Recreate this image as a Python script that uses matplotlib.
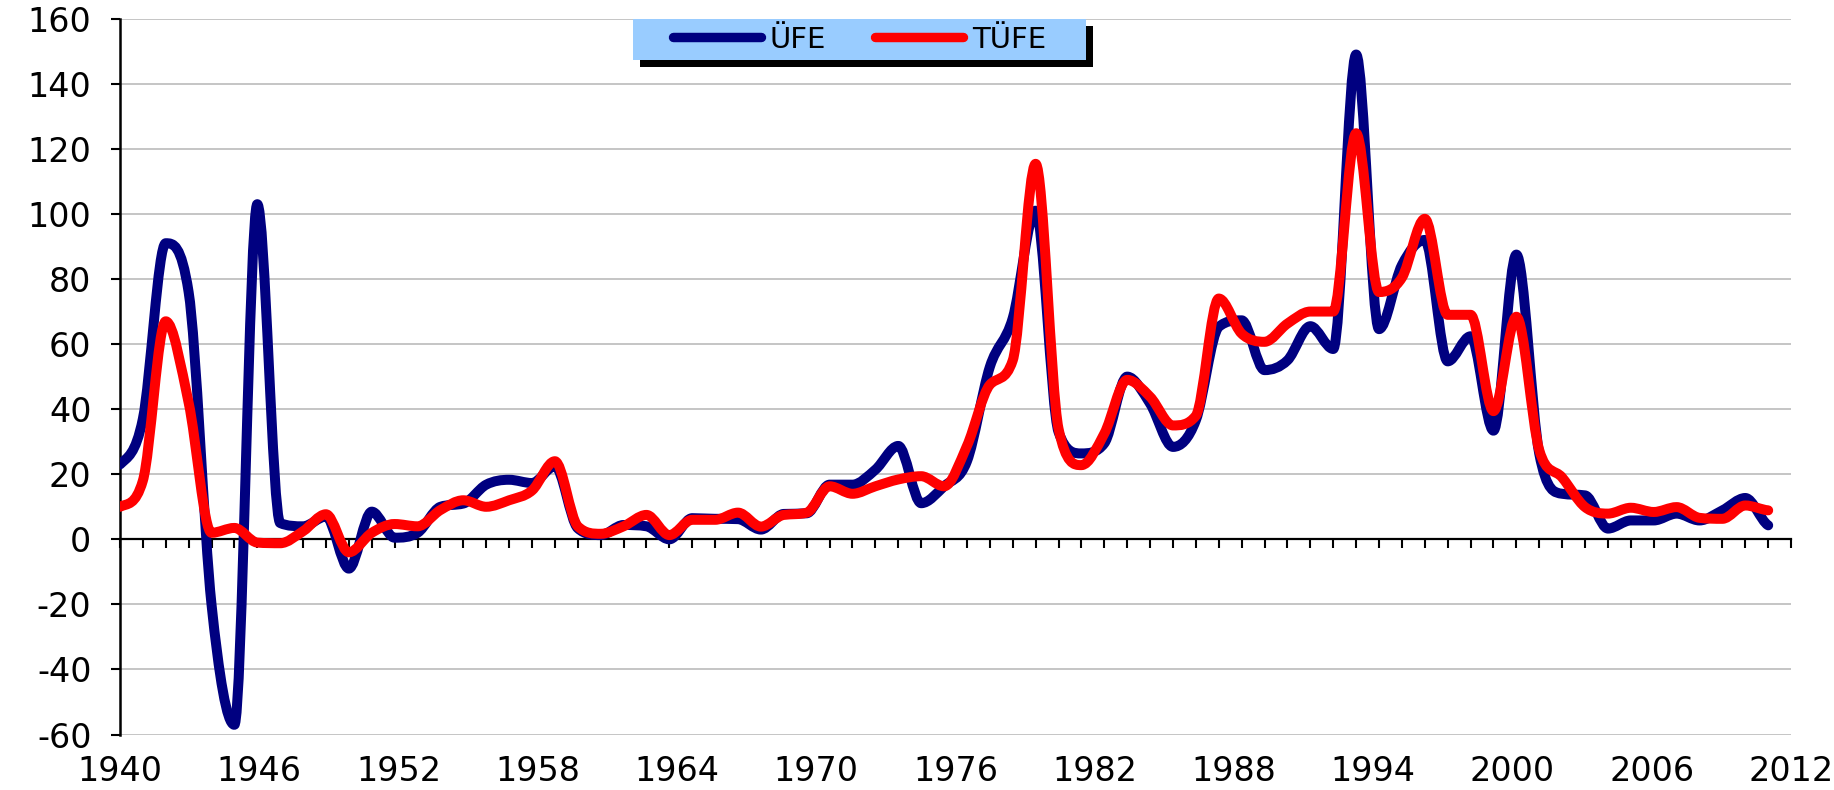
import numpy as np
import matplotlib
matplotlib.use('Agg')
import matplotlib.pyplot as plt
from matplotlib.path import Path
from matplotlib.patches import PathPatch, Rectangle
from matplotlib.lines import Line2D

# yearly inflation, %
years = list(range(1940, 2013))

ufe = [23, 37, 91, 76, -20, -57, 103, 5, 4, 7,
       -9, 8.5, 0.5, 2, 10, 11, 16.8, 18.3, 17.3, 22.5,
       3.4, 1.3, 4.4, 4, 0, 6.5, 6.3, 6.2, 3, 7.8,
       8, 16.8, 16.8, 21.4, 28.7, 11.1, 16.3, 24, 53, 68,
       101, 33, 26.4, 29.5, 50, 41.7, 28.4, 36.6, 65.3, 67.3,
       52, 55, 65.5, 58.5, 149, 64.6, 84.3, 92, 54.7, 62.4,
       33.4, 87.5, 26.3, 14, 13.5, 3.3, 5.8, 5.8, 7.9, 5.8,
       8.9, 12.7, 4.3]

tufe = [10, 18, 67, 42, 2, 3.5, -1, -1.2, 2.5, 7.7,
        -4, 2, 4.7, 4, 9, 12, 10, 12, 15, 24,
        4, 1.7, 4, 7.5, 1.3, 6, 6, 8.2, 3.9, 7.5,
        8.2, 16.3, 14, 16.3, 18.4, 19.4, 16.3, 28.7, 47.5, 55,
        115.4, 34, 22.8, 32.5, 49, 43.8, 35, 38, 74, 63.2,
        60.7, 66.3, 70, 70, 124.8, 76, 80.4, 98.5, 69, 69,
        39.4, 68.4, 27.4, 19, 9.9, 7.9, 9.7, 8.4, 9.9, 6.6,
        6.3, 10.4, 8.9]

series_names = ['ÜFE', 'TÜFE']
series_colors = ['#000080', '#FF0000']

x_labels = ['1940', '1946', '1952', '1958', '1964', '1970', '1976',
            '1982', '1988', '1994', '2000', '2006', '2012']
y_ticks = [-60, -40, -20, 0, 20, 40, 60, 80, 100, 120, 140, 160]


def smooth_path(xs, ys):
    # smoothed line: cubic bezier through every point,
    # flat at peaks/troughs so the curve does not overshoot them
    xs = np.asarray(xs, dtype=float)
    ys = np.asarray(ys, dtype=float)
    n = len(ys)
    d = np.diff(ys)
    m = np.zeros(n)
    m[0] = d[0] / 2
    m[-1] = d[-1] / 2
    for i in range(1, n - 1):
        if d[i - 1] * d[i] > 0:
            m[i] = (ys[i + 1] - ys[i - 1]) / 2
    for k in range(n - 1):
        if d[k] == 0:
            m[k] = m[k + 1] = 0
            continue
        a, b = m[k] / d[k], m[k + 1] / d[k]
        s = a * a + b * b
        if s > 9:
            t = 3 / np.sqrt(s)
            m[k], m[k + 1] = t * a * d[k], t * b * d[k]
    verts = [(xs[0], ys[0])]
    codes = [Path.MOVETO]
    for k in range(n - 1):
        h = xs[k + 1] - xs[k]
        verts += [(xs[k] + h / 3, ys[k] + m[k] / 3),
                  (xs[k + 1] - h / 3, ys[k + 1] - m[k + 1] / 3),
                  (xs[k + 1], ys[k + 1])]
        codes += [Path.CURVE4] * 3
    return Path(verts, codes)


fig = plt.figure(figsize=(18.34, 7.90), dpi=100)
ax = fig.add_axes([0.0654, 0.0702, 0.9112, 0.9061])

for vals, color in zip([ufe, tufe], series_colors):
    ax.add_patch(PathPatch(smooth_path(years, vals), fill=False, edgecolor=color,
                           lw=7.2, capstyle='round', joinstyle='round', zorder=3))

ax.set_xlim(1940, 2013)
ax.set_ylim(-60, 160)

# y axis
ax.set_yticks(y_ticks)
ax.set_yticklabels([str(v) for v in y_ticks])
ax.tick_params(axis='y', direction='out', length=6.5, width=1.5, labelsize=24, pad=14)
ax.yaxis.grid(True, color='#C0C0C0', lw=1.3, zorder=0)
ax.set_axisbelow(True)

# x axis crossing at zero, a tick for every year
ax.spines['bottom'].set_position(('data', 0))
ax.spines['bottom'].set_linewidth(1.6)
ax.spines['left'].set_linewidth(1.8)
ax.spines['top'].set_visible(False)
ax.spines['right'].set_visible(False)
ax.set_xticks(np.arange(1940, 2014))
ax.tick_params(axis='x', direction='out', length=6.5, width=1.5, labelbottom=False)

# year labels at the bottom, spread evenly over the axis
sec = ax.secondary_xaxis('bottom')
sec.set_xticks(np.linspace(1940, 2013, len(x_labels)))
sec.set_xticklabels(x_labels)
sec.tick_params(length=0, labelsize=24, pad=15)
sec.spines['bottom'].set_visible(False)

# legend box with a hard black shadow
box_x, box_y, box_w, box_h = 633 / 1834, 1 - 60 / 790, 453 / 1834, 41 / 790
ax.add_patch(Rectangle((box_x + 7 / 1834, box_y - 7 / 790), box_w, box_h,
                       transform=fig.transFigure, facecolor='black', edgecolor='none',
                       zorder=4, clip_on=False))
ax.add_patch(Rectangle((box_x, box_y), box_w, box_h, transform=fig.transFigure,
                       facecolor='#99CCFF', edgecolor='none', zorder=4.5, clip_on=False))

handles = [Line2D([], [], color=c, lw=6.8, solid_capstyle='round') for c in series_colors]
leg = ax.legend(handles, series_names, ncol=2, frameon=False, loc='center',
                bbox_to_anchor=(box_x + box_w / 2, box_y + box_h / 2),
                bbox_transform=fig.transFigure, fontsize=21,
                handlelength=3.0, handletextpad=0.3, columnspacing=1.7,
                borderpad=0.1)
leg.set_zorder(5)

fig.savefig('out.png', dpi=100)
